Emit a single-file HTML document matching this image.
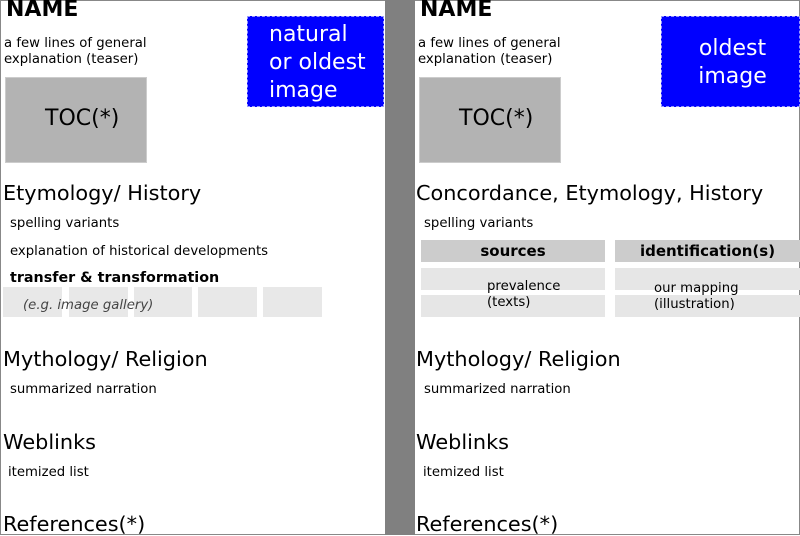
<!DOCTYPE html>
<html><head><meta charset="utf-8"><style>
body{margin:0;width:800px;height:535px;position:relative;overflow:hidden;background:#fff;font-family:"DejaVu Sans","Liberation Sans",sans-serif;color:#000}
div{position:absolute;white-space:nowrap}
.t{line-height:1}
.h{font-size:20.8px}
.s{font-size:13.25px}
.g{background:#e8e8e8}
</style></head><body>
<div style="left:0;top:0;width:800px;border:1px solid #888;box-sizing:border-box;height:535px"></div>
<div style="left:385px;top:0;width:30px;height:535px;background:#808080"></div>

<!-- LEFT -->
<div class="t" style="left:6px;top:-1px;font-size:22px;font-weight:bold">NAME</div>
<div class="s" style="left:4px;top:36px;line-height:16px">a few lines of general<br>explanation (teaser)</div>
<div style="left:5px;top:77px;width:142px;height:86px;background:#b3b3b3;border:1px solid #ccc;box-sizing:border-box"></div>
<div class="t" style="left:45px;top:108px;font-size:22px">TOC(*)</div>
<div style="left:247px;top:16px;width:137px;height:91px;background:#0000ff;border:1px dashed #9999ff;box-sizing:border-box"></div>
<div style="left:269px;top:21px;font-size:22px;color:#fff;line-height:28px">natural<br>or oldest<br>image</div>

<div class="t h" style="left:3px;top:183px">Etymology/ History</div>
<div class="t s" style="left:10px;top:217px">spelling variants</div>
<div class="t s" style="left:10px;top:245px">explanation of historical developments</div>
<div class="t" style="left:10px;top:271px;font-size:14.3px;font-weight:bold">transfer &amp; transformation</div>
<div class="g" style="left:3px;top:287px;width:59px;height:30px"></div>
<div class="g" style="left:69px;top:287px;width:59px;height:30px"></div>
<div class="g" style="left:134px;top:287px;width:58px;height:30px"></div>
<div class="g" style="left:198px;top:287px;width:59px;height:30px"></div>
<div class="g" style="left:263px;top:287px;width:59px;height:30px"></div>
<div class="t s" style="left:23px;top:299px;font-style:italic;color:#444">(e.g. image gallery)</div>

<div class="t h" style="left:3px;top:349px">Mythology/ Religion</div>
<div class="t s" style="left:10px;top:383px">summarized narration</div>
<div class="t h" style="left:3px;top:432px">Weblinks</div>
<div class="t s" style="left:8px;top:466px">itemized list</div>
<div class="t h" style="left:3px;top:514px">References(*)</div>

<!-- RIGHT -->
<div class="t" style="left:420px;top:-1px;font-size:22px;font-weight:bold">NAME</div>
<div class="s" style="left:418px;top:36px;line-height:16px">a few lines of general<br>explanation (teaser)</div>
<div style="left:419px;top:77px;width:142px;height:86px;background:#b3b3b3;border:1px solid #ccc;box-sizing:border-box"></div>
<div class="t" style="left:459px;top:108px;font-size:22px">TOC(*)</div>
<div style="left:661px;top:16px;width:139px;height:91px;background:#0000ff;border:1px dashed #9999ff;box-sizing:border-box"></div>
<div style="left:663px;top:35px;width:139px;text-align:center;font-size:22px;color:#fff;line-height:28px">oldest<br>image</div>

<div class="t h" style="left:416px;top:183px">Concordance, Etymology, History</div>
<div class="t s" style="left:424px;top:217px">spelling variants</div>
<div style="left:421px;top:240px;width:184px;height:22px;background:#cccccc;font-size:15px;font-weight:bold;text-align:center;line-height:22px">sources</div>
<div style="left:615px;top:240px;width:185px;height:22px;background:#cccccc;font-size:15px;font-weight:bold;text-align:center;line-height:22px">identification(s)</div>
<div style="left:421px;top:268px;width:184px;height:22px;background:#e6e6e6"></div>
<div style="left:421px;top:295px;width:184px;height:22px;background:#e6e6e6"></div>
<div style="left:615px;top:268px;width:185px;height:22px;background:#e6e6e6"></div>
<div style="left:615px;top:295px;width:185px;height:22px;background:#e6e6e6"></div>
<div class="s" style="left:487px;top:279px;line-height:16px">prevalence<br>(texts)</div>
<div class="s" style="left:654px;top:281px;line-height:16px">our mapping<br>(illustration)</div>

<div class="t h" style="left:416px;top:349px">Mythology/ Religion</div>
<div class="t s" style="left:424px;top:383px">summarized narration</div>
<div class="t h" style="left:416px;top:432px">Weblinks</div>
<div class="t s" style="left:423px;top:466px">itemized list</div>
<div class="t h" style="left:416px;top:514px">References(*)</div>
</body></html>
